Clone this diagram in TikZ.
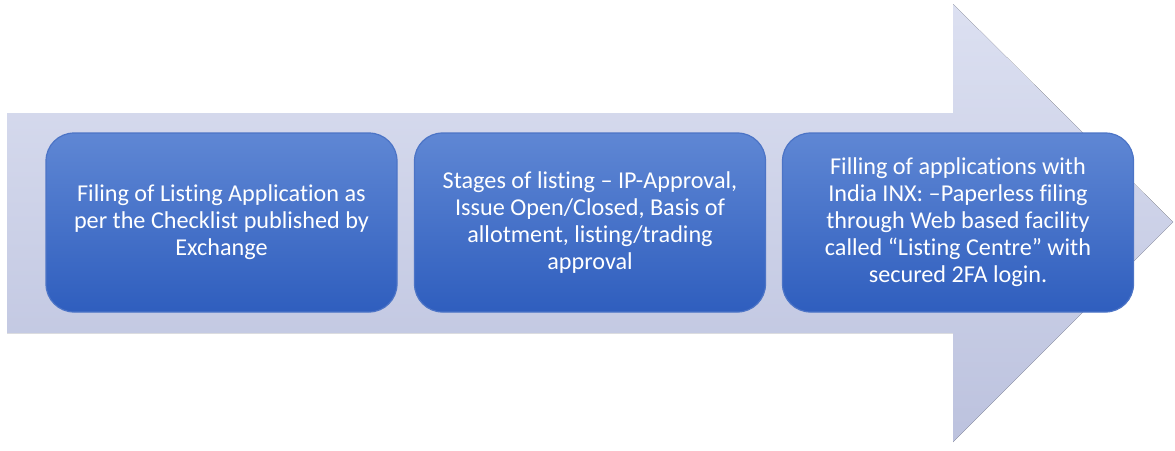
\documentclass[tikz,border=0pt]{standalone}
\usepackage{fontspec}
\setmainfont{Carlito}[Ligatures={NoCommon,TeX}]
\begin{document}
\begin{tikzpicture}[x=1pt,y=-1pt]
\definecolor{arrtop}{HTML}{DCE0F1}
\definecolor{arrbot}{HTML}{BCC2DE}
\definecolor{boxtop}{HTML}{5F87D4}
\definecolor{boxbot}{HTML}{2F5EBE}
\definecolor{boxedge}{HTML}{4C74C6}
\tikzset{
  stepbox/.style={rounded corners=28pt, minimum width=351pt, minimum height=179pt,
    top color=boxtop, bottom color=boxbot, draw=boxedge, line width=1.2pt,
    text=white, align=center, font=\fontsize{24.2}{27}\selectfont, inner sep=0pt}
}
\useasboundingbox (0,0) rectangle (1175,450);
\fill[top color=arrtop, bottom color=arrbot]
  (7,113) -- (953,113) -- (953,4) -- (1173,222) -- (953,442) -- (953,333) -- (7,333) -- cycle;
\node[stepbox] (b1) at (221.5,222.5) {Filing of Listing Application as\\per the Checklist published by\\Exchange};
\node[stepbox] (b2) at (590,222.5) {Stages of listing -- IP-Approval,\\Issue Open/Closed, Basis of\\allotment, listing/trading\\approval};
\node[stepbox] (b3) at (958,222.5) {Filling of applications with\\India INX: --Paperless filing\\through Web based facility\\called “Listing Centre” with\\secured 2FA login.};
\end{tikzpicture}
\end{document}
